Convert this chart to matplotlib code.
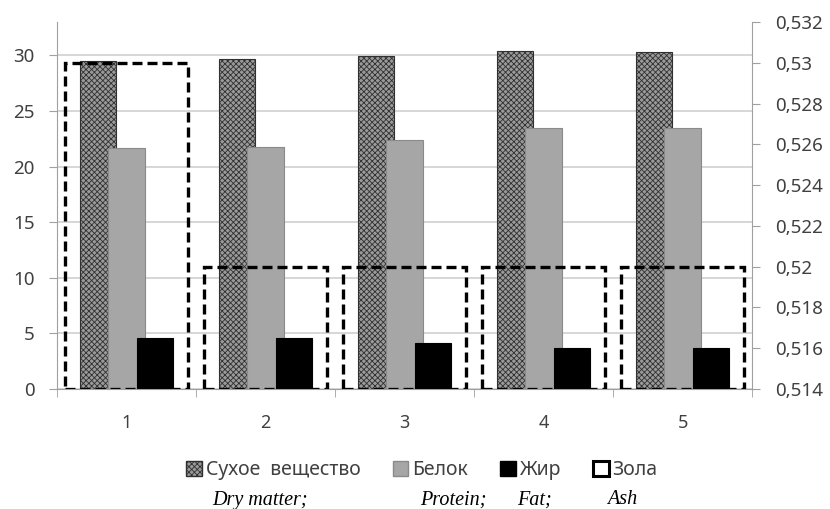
import matplotlib.pyplot as plt
import numpy as np
from matplotlib.patches import Patch
from matplotlib.ticker import FixedLocator, FuncFormatter

plt.rcParams['font.family'] = ['Noto Sans', 'DejaVu Sans']
plt.rcParams['hatch.linewidth'] = 0.6

# data
groups = ['1', '2', '3', '4', '5']
dry_matter = [29.5, 29.7, 29.9, 30.4, 30.3]
protein = [21.7, 21.8, 22.4, 23.5, 23.5]
fat = [4.6, 4.6, 4.1, 3.7, 3.7]
ash = [0.530, 0.520, 0.520, 0.520, 0.520]

labels_ru = ['Сухое  вещество', 'Белок', 'Жир', 'Зола']
labels_en = ['Dry matter;', 'Protein;', 'Fat;', 'Ash']

txt = '#404040'
grid = '#cccccc'

fig = plt.figure(figsize=(8.3, 5.09), dpi=100)
ax = fig.add_axes([57/830, 1 - 389/509, (752-57)/830, (389-22)/509])
ax2 = ax.twinx()

x = np.arange(len(groups))
w = 0.26
off = 0.205

ax.bar(x - off, dry_matter, w, facecolor='#9a9a9a', edgecolor='#303030',
       hatch='xxxxxx', linewidth=0.8, zorder=3)
ax.bar(x, protein, w, facecolor='#a6a6a6', edgecolor='#8a8a8a',
       linewidth=0.8, zorder=3)
ax.bar(x + off, fat, w, facecolor='black', edgecolor='black',
       linewidth=0.8, zorder=3)

# ash sits on the right-hand axis as a wide dashed frame
ax2.bar(x, np.array(ash) - 0.514, 0.88, bottom=0.514, facecolor='none',
        edgecolor='black', linestyle=(0, (3, 1.5)), linewidth=2.4, zorder=4)

ax.set_xlim(-0.5, 4.5)
ax.set_ylim(0, 33)
ax2.set_ylim(0.514, 0.532)

ax.yaxis.set_major_locator(FixedLocator([0, 5, 10, 15, 20, 25, 30]))
ax.yaxis.grid(True, color=grid, linewidth=1.1, zorder=0)
ax.set_axisbelow(True)

ax.set_xticks(x)
ax.set_xticklabels(groups)
ax.xaxis.set_minor_locator(FixedLocator(np.arange(-0.5, 5, 1.0)))
ax.tick_params(axis='x', which='major', length=0, pad=18, labelsize=13, colors=txt)
ax.tick_params(axis='x', which='minor', length=6, color='#a0a0a0')
ax.tick_params(axis='y', length=6, color='#a0a0a0', labelsize=13.5,
               labelcolor=txt, pad=10)

ax2.yaxis.set_major_locator(FixedLocator(np.arange(0.514, 0.5321, 0.002)))
ax2.yaxis.set_major_formatter(FuncFormatter(
    lambda v, p: ('%.3f' % v).rstrip('0').replace('.', ',')))
ax2.tick_params(axis='y', length=6, color='#a0a0a0', labelsize=13.5,
                labelcolor=txt, pad=11)

ax.spines['top'].set_visible(False)
ax2.spines['top'].set_visible(False)
ax.spines['right'].set_visible(False)
ax2.spines['left'].set_visible(False)
ax2.spines['bottom'].set_visible(False)
ax.spines['left'].set_color('#a0a0a0')
ax.spines['bottom'].set_color('#a0a0a0')
ax2.spines['right'].set_color('#a0a0a0')

handles = [
    Patch(facecolor='#9a9a9a', edgecolor='#303030', hatch='xxxxxx'),
    Patch(facecolor='#a6a6a6', edgecolor='#8a8a8a'),
    Patch(facecolor='black', edgecolor='black'),
    Patch(facecolor='white', edgecolor='black', linewidth=2.2),
]
leg = fig.legend(handles, labels_ru, loc='center', ncol=4,
                 bbox_to_anchor=(422/830, 1 - 470/509), frameon=False,
                 handlelength=0.8, handleheight=0.8, handletextpad=0.2,
                 columnspacing=1.65, fontsize=14)
for t in leg.get_texts():
    t.set_color(txt)

en_x = [212, 420, 517, 607]
for xx, s in zip(en_x, labels_en):
    fig.text(xx/830, 1 - 500/509, s, family='Liberation Serif', style='italic',
             fontsize=14.5, ha='left', va='center', color='black')

fig.savefig('out.png', dpi=100)
